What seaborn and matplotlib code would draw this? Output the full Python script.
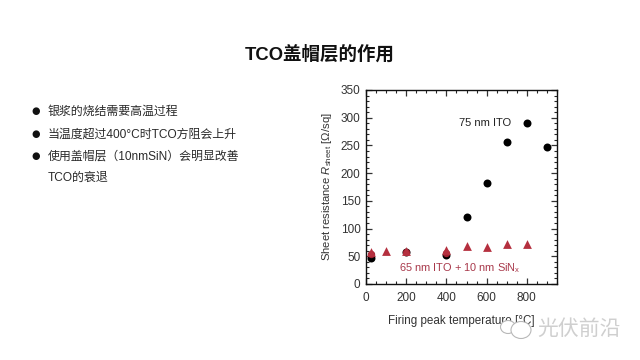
import matplotlib
matplotlib.use('Agg')
import matplotlib.pyplot as plt
from matplotlib.patches import Ellipse
from matplotlib.ticker import MultipleLocator
import pandas as pd
import seaborn as sns

ito_temp = [25, 200, 400, 500, 600, 700, 800, 900]
ito_rs = [47, 58, 52, 120, 183, 257, 291, 248]
sin_temp = [25, 100, 200, 400, 500, 600, 700, 800]
sin_rs = [58, 60, 60, 62, 69, 66, 73, 72]
sin_round_temp = [25, 200, 400]
sin_round_rs = [55, 58, 56]
bullets = ['银浆的烧结需要高温过程', '当温度超过400°C时TCO方阻会上升',
           '使用盖帽层（10nmSiN）会明显改善', 'TCO的衰退']
bullet_marks = [True, True, True, False]

sns.set_theme(style='white')
plt.rcParams['font.family'] = ['Liberation Sans', 'Noto Sans CJK SC', 'DejaVu Sans']
plt.rcParams['mathtext.fontset'] = 'custom'
plt.rcParams['mathtext.it'] = 'Liberation Sans:italic'
plt.rcParams['mathtext.rm'] = 'Liberation Sans'

fig = plt.figure(figsize=(6.4, 3.6), dpi=100, facecolor='white')
W, H = 640, 360
ax = fig.add_axes([366 / W, 1 - 284 / H, 191 / W, 194 / H])

df_ito = pd.DataFrame({'temp': ito_temp, 'rs': ito_rs})
df_sin = pd.DataFrame({'temp': sin_temp, 'rs': sin_rs})
df_round = pd.DataFrame({'temp': sin_round_temp, 'rs': sin_round_rs})
sns.scatterplot(data=df_ito, x='temp', y='rs', ax=ax, color='black', marker='o', s=33,
                linewidth=0, zorder=3, clip_on=False)
sns.scatterplot(data=df_round, x='temp', y='rs', ax=ax, color='#a02030', marker='o', s=28,
                linewidth=0, zorder=4, clip_on=False)
sns.scatterplot(data=df_sin, x='temp', y='rs', ax=ax, color='#b5303f', marker='^', s=40,
                linewidth=0, zorder=5, clip_on=False)

ax.set_xlim(0, 950)
ax.set_ylim(0, 350)
ax.xaxis.set_major_locator(MultipleLocator(200))
ax.xaxis.set_minor_locator(MultipleLocator(50))
ax.yaxis.set_major_locator(MultipleLocator(50))
ax.yaxis.set_minor_locator(MultipleLocator(10))
ax.tick_params(which='major', direction='in', length=4, width=0.9, top=True, right=True,
               bottom=True, left=True, labelsize=8.5, colors='#333333')
ax.tick_params(axis='x', which='major', pad=6)
ax.tick_params(axis='y', which='major', pad=4)
ax.tick_params(which='minor', direction='in', length=2, width=0.8, top=True, right=True,
               bottom=True, left=True)
for s in ax.spines.values():
    s.set_linewidth(1.0)
    s.set_color('#111111')
ax.set_xlabel('Firing peak temperature [°C]', fontsize=8.4, color='#333333')
ax.set_ylabel(r'Sheet resistance $R_{\mathrm{sheet}}$ [Ω/sq]', fontsize=8.1, color='#333333')
ax.xaxis.set_label_coords(0.5, -0.16)
ax.yaxis.set_label_coords(-0.168, 0.5)
ax.text(592, 290, '75 nm ITO', fontsize=8, color='#222222', ha='center', va='center')
ax.text(465, 28, r'65 nm ITO + 10 nm SiN$_{\mathrm{x}}$', fontsize=7.9, color='#a8384a',
        ha='center', va='center')

fig.text(320 / W, 1 - 55 / H, 'TCO盖帽层的作用', fontsize=13.3, fontweight='bold', color='#111111',
         ha='center', va='center')

ys = [112, 135, 157, 178]
for t, y, m in zip(bullets, ys, bullet_marks):
    fig.text(48 / W, 1 - y / H, t, fontsize=8.6, color='#2a2a2a', ha='left', va='center')
    if m:
        fig.text(36 / W, 1 - (y - 1) / H, '●', fontsize=7, color='#111111', ha='center', va='center',
                 family='DejaVu Sans')

# watermark over the x label
over = fig.add_axes([0, 0, 1, 1], facecolor='none')
over.set_xlim(0, W)
over.set_ylim(H, 0)
over.axis('off')
over.add_patch(Ellipse((508, 327), 15, 13, fc='white', ec='#b8b8b8', lw=0.8))
over.add_patch(Ellipse((521, 330), 20, 17, fc='white', ec='#b8b8b8', lw=0.8))
over.text(537, 329, '光伏前沿', fontsize=15, color='#cfcfcf', ha='left', va='center')
fig.savefig('out.png', dpi=100)
